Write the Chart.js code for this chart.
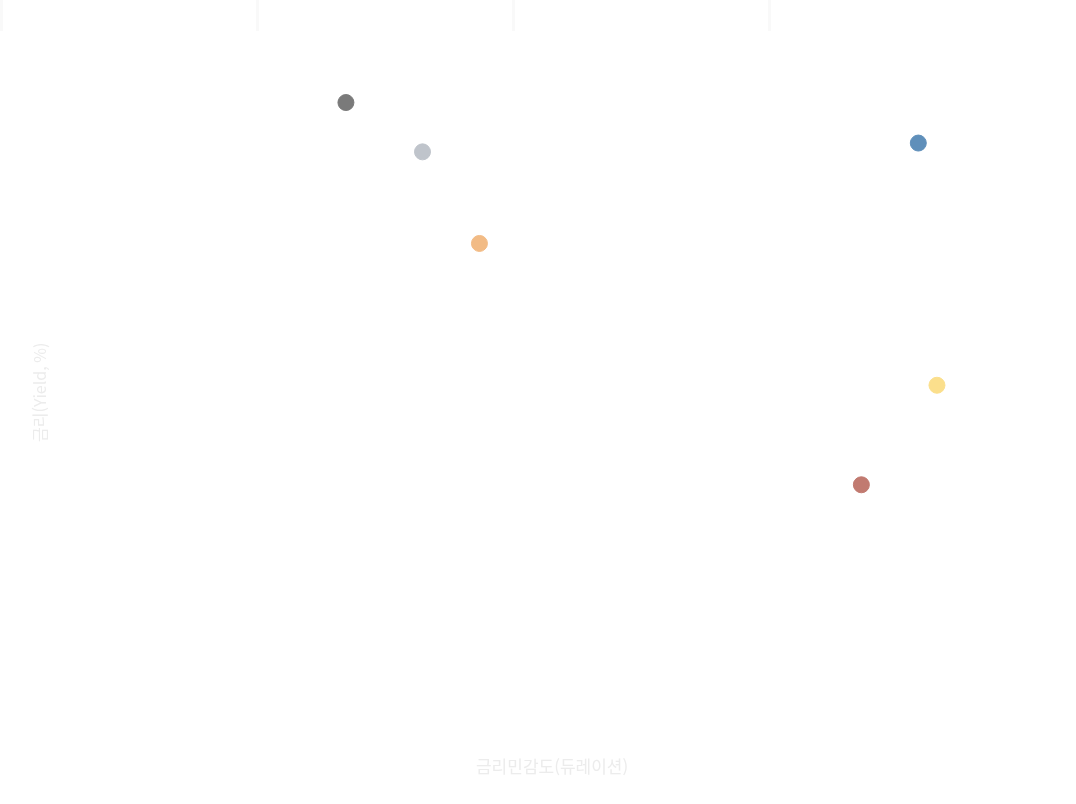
<!DOCTYPE html>
<html lang="ko">
<head>
<meta charset="utf-8">
<script src="https://cdn.jsdelivr.net/npm/chart.js@4.4.1/dist/chart.umd.min.js"></script>
<style>
  html, body { margin: 0; padding: 0; background: #fff; }
  .wrap { position: relative; width: 1076px; height: 804px; }
  .cards { position: absolute; top: 0; left: 0; width: 1076px; height: 31px; display: flex; }
  .card { width: 256px; height: 31px; border-left: 3px solid #f9f9f9; box-sizing: border-box; }
  canvas { position: absolute; top: 0; left: 0; }
</style>
</head>
<body>
<div class="wrap">
  <canvas id="yieldChart" width="1076" height="804"></canvas>
  <div class="cards"><div class="card"></div><div class="card"></div><div class="card"></div><div class="card"></div></div>
</div>
<script>
const names     = ['장기국채', '회사채 A', '회사채 BBB', '하이일드', '신흥국채', '물가연동채'];
const duration  = [2.90, 3.68, 4.26, 8.73, 8.92, 8.15];
const yieldPct  = [7.29, 6.73, 5.69, 6.83, 4.08, 2.95];
const colors    = ['#7a7a7a', '#bfc4cb', '#f2bb85', '#5f8fba', '#fbdf8c', '#c17a70'];

new Chart(document.getElementById('yieldChart'), {
  type: 'scatter',
  data: {
    datasets: names.map((n, i) => ({
      label: n,
      data: [{ x: duration[i], y: yieldPct[i] }],
      backgroundColor: colors[i],
      borderColor: colors[i],
      pointRadius: 8,
      pointHoverRadius: 9
    }))
  },
  options: {
    responsive: false,
    animation: false,
    layout: { padding: { left: 26, right: 33, top: 40, bottom: 23 } },
    plugins: { legend: { display: false }, tooltip: { enabled: false } },
    scales: {
      x: {
        min: 0, max: 10,
        grid: { display: false }, border: { display: false },
        ticks: { display: false },
        title: { display: true, text: '금리민감도(듀레이션)', color: '#ececec', font: { family: 'Noto Sans CJK KR', size: 17 } }
      },
      y: {
        min: 0, max: 8,
        grid: { display: false }, border: { display: false },
        ticks: { display: false },
        title: { display: true, text: '금리(Yield, %)', color: '#ececec', font: { family: 'Noto Sans CJK KR', size: 16 } }
      }
    }
  }
});
</script>
</body>
</html>
